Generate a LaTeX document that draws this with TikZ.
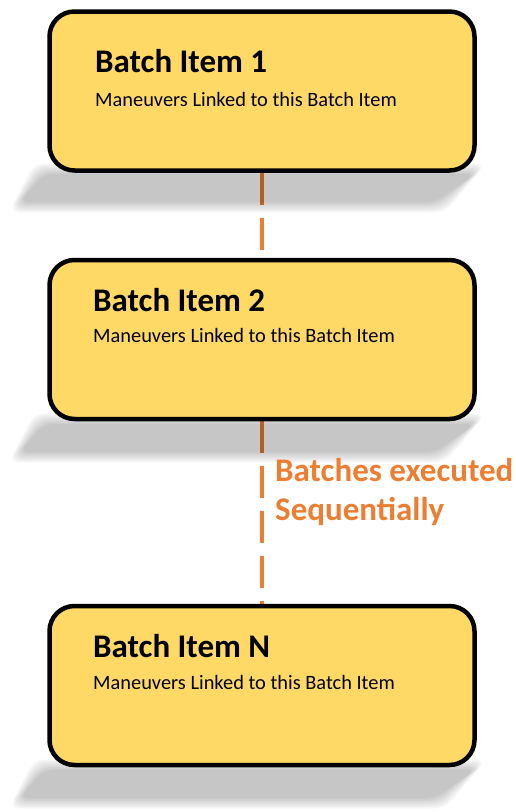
\documentclass[tikz,border=0pt]{standalone}
\usepackage{fontspec}
\setmainfont{Carlito}
\definecolor{boxfill}{HTML}{FFD966}
\definecolor{accent}{HTML}{ED7D31}
\tikzset{
  batchbox/.style={draw=black, line width=4.5pt, fill=boxfill, rounded corners=25pt,
    minimum width=425pt, minimum height=159pt, inner sep=0pt},
  title/.style={anchor=base west, inner sep=0pt, font=\fontsize{33}{40}\selectfont\bfseries},
  subtitle/.style={anchor=base west, inner sep=0pt, font=\fontsize{20.4}{24}\selectfont},
  note/.style={anchor=base west, inner sep=0pt, text=accent, font=\fontsize{33}{40}\selectfont\bfseries},
  seqline/.style={draw=accent, line width=4pt, dash pattern=on 32pt off 13pt},
}
% soft drop shadow under a box whose bottom edge lies at #1
\newcommand{\softshadow}[1]{%
  \foreach \d in {0,1.5,...,10.5}{%
    \fill[black, opacity=0.03, rounded corners=10pt]
      (34+\d, #1-6+\d) -- (486-\d, #1-6+\d) -- (445-\d, #1+43-\d) -- (9+\d, #1+43-\d) -- cycle;
  }%
}
\begin{document}
\begin{tikzpicture}[x=1pt, y=-1pt]
  \useasboundingbox (0,0) rectangle (515,812);

  % box positions
  \coordinate (c1) at (262, 91);
  \coordinate (c2) at (262, 339.5);
  \coordinate (cN) at (262, 685.5);

  % invisible placeholders so the connectors can be drawn first
  \path (c1) node[batchbox, draw=none, fill=none] (p1) {};
  \path (c2) node[batchbox, draw=none, fill=none] (p2) {};
  \path (cN) node[batchbox, draw=none, fill=none] (pN) {};

  % sequence connectors
  \draw[seqline] (p1.south) -- (p2.north);
  \draw[seqline] (p2.south) -- (pN.north);

  % shadows
  \softshadow{169.5}
  \softshadow{419.5}
  \softshadow{765.5}

  % batch boxes
  \node[batchbox] (b1) at (c1) {};
  \node[batchbox] (b2) at (c2) {};
  \node[batchbox] (bN) at (cN) {};

  % labels
  \node[title] (t1) at (95, 72.7) {Batch Item 1};
  \node[subtitle] (s1) at (95, 106) {Maneuvers Linked to this Batch Item};
  \node[title] (t2) at (93, 311.7) {Batch Item 2};
  \node[subtitle] (s2) at (93, 342.3) {Maneuvers Linked to this Batch Item};
  \node[title] (tN) at (93, 657.7) {Batch Item N};
  \node[subtitle] (sN) at (93, 689.3) {Maneuvers Linked to this Batch Item};

  \node[note] (n1) at (275, 481) {Batches executed};
  \node[note] (n2) at (275, 520) {Sequentially};
\end{tikzpicture}
\end{document}
